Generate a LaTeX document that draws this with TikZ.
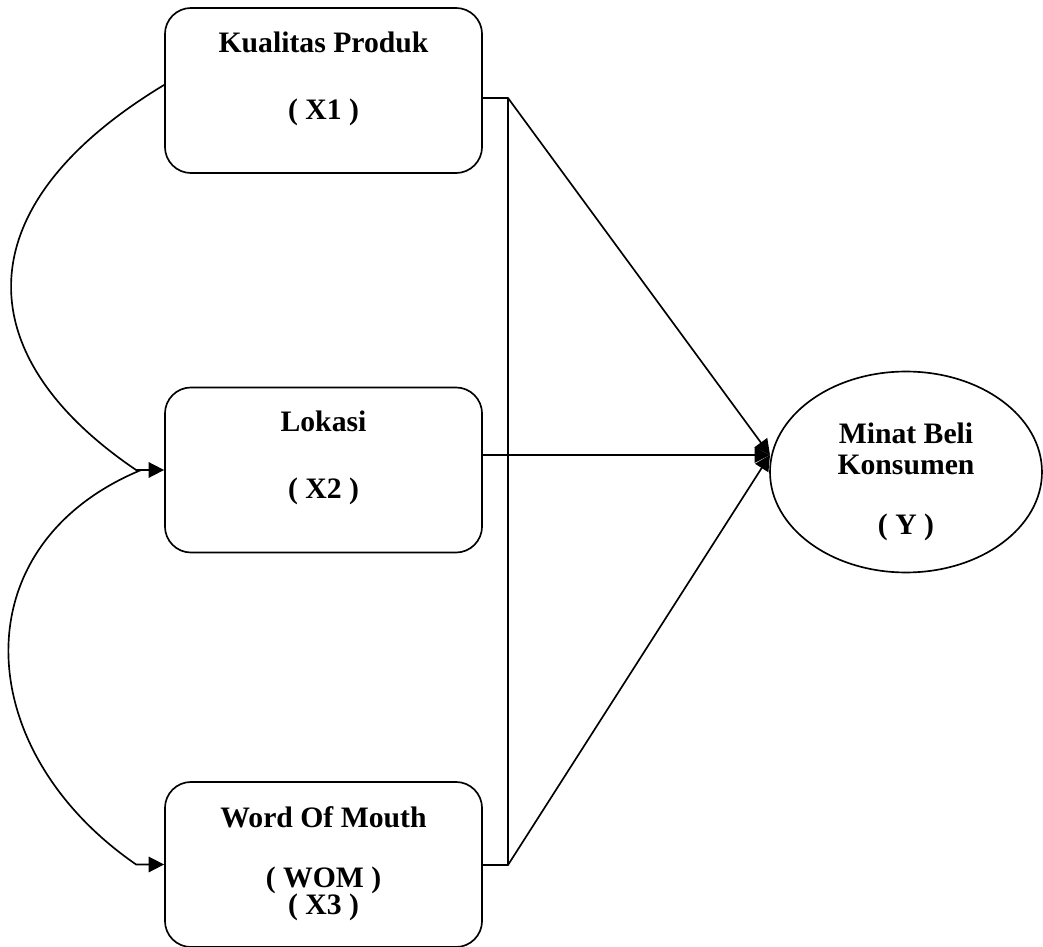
\documentclass[tikz,border=0pt]{standalone}
\usepackage{fontspec}
\setmainfont{Liberation Serif}
\usetikzlibrary{arrows.meta,shapes.geometric,calc}

\begin{document}
\begin{tikzpicture}[x=0.421pt,y=-0.421pt,line width=0.7pt,
	box/.style={draw,rounded corners=11pt,minimum width=133.5pt,minimum height=69.5pt,inner sep=0pt},
	oval/.style={draw,ellipse,minimum width=114.5pt,minimum height=84.6pt,inner sep=0pt},
	txt/.style={font=\fontsize{12.5}{14.5}\selectfont\bfseries,align=center},
	arr/.style={-{Triangle[length=6.5pt,width=6.5pt]}}]
\useasboundingbox (0,0) rectangle (1043,947);
	\node[box] (x1) at (323.5,90.5) {};
	\node[box] (x2) at (323.5,470) {};
	\node[box] (x3) at (323.5,864.5) {};
	\node[oval] (y) at (906,472) {};
	\node[txt] (x1txt) at (323.5,78.5) {Kualitas Produk\\[13.7pt]( X1 )};
	\node[txt] (x2txt) at (323.5,458) {Lokasi\\[13.7pt]( X2 )};
	\node[txt] (x3txt) at (323.5,863.5) {Word Of Mouth\\[10.8pt]( WOM )\\[-3pt]( X3 )};
	\node[txt] (ytxt) at (906,482) {Minat Beli\\[-1.5pt]Konsumen\\[10.8pt]( Y )};
	\coordinate (j1) at (508,98);
	\coordinate (j3) at (508,865);
	\coordinate (tip) at (770,455);
	\draw[arr] (x1.178) .. controls (-35,205) and (-35,354) .. ($(x2.west)+(-28,0)$) -- (x2.west);
	\draw[arr] ($(x2.west)+(-23,0)$) .. controls (-40,545) and (-30,750) .. ($(x3.west)+(-28,0)$) -- (x3.west);
	\draw[arr] (x1.east |- j1) -- (j1) -- (tip);
	\draw[arr] (x2.east |- tip) -- (tip);
	\draw[arr] (x3.east |- j3) -- (j3) -- (tip);
	\draw (j1) -- (j3);
\end{tikzpicture}
\end{document}
